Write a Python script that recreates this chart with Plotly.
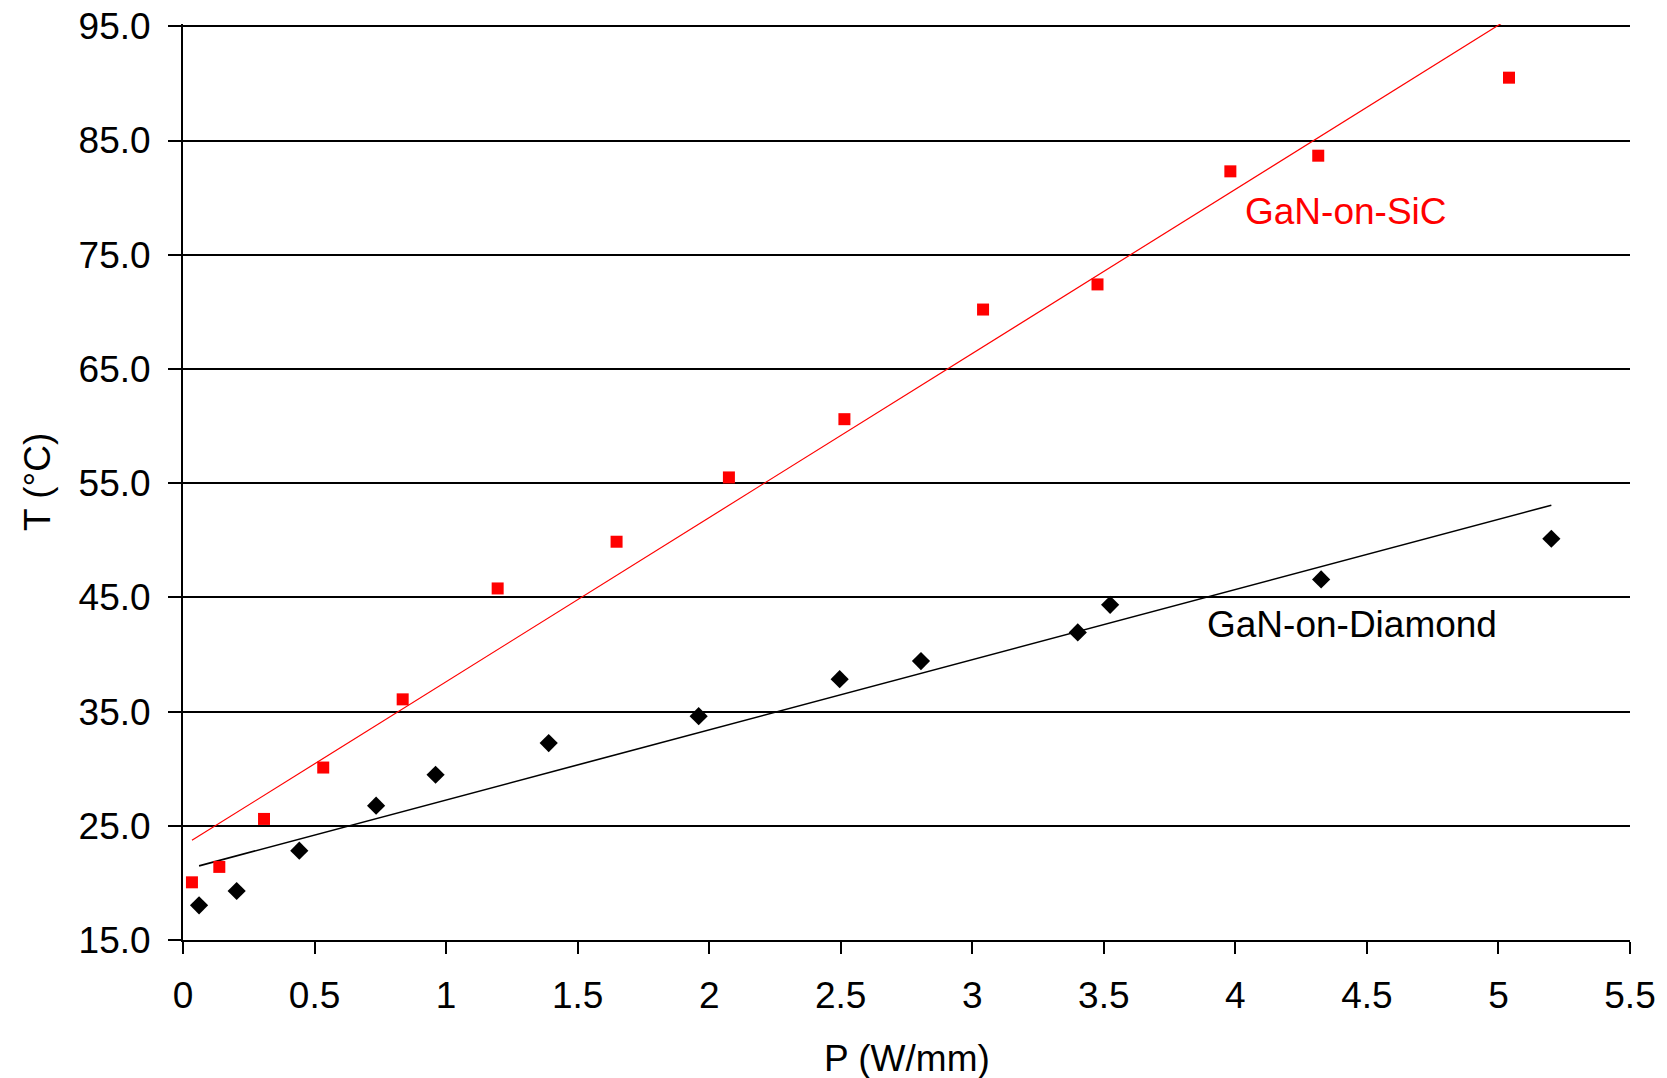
import numpy as np
import plotly.graph_objects as go

# GaN-on-SiC (red squares)
sic_p = [0.034, 0.138, 0.308, 0.533, 0.835, 1.196, 1.648, 2.075, 2.514, 3.041, 3.476, 3.981, 4.315, 5.040]
sic_t = [20.05, 21.4, 25.6, 30.1, 36.07, 45.78, 49.87, 55.5, 60.6, 70.2, 72.4, 82.3, 83.67, 90.5]

# GaN-on-Diamond (black diamonds)
dia_p = [0.061, 0.204, 0.442, 0.734, 0.960, 1.390, 1.960, 2.496, 2.805, 3.401, 3.524, 4.326, 5.201]
dia_t = [18.04, 19.29, 22.82, 26.76, 29.47, 32.24, 34.6, 37.84, 39.42, 41.93, 44.35, 46.57, 50.13]

y_ticks = [15, 25, 35, 45, 55, 65, 75, 85, 95]
x_ticks = [0, 0.5, 1, 1.5, 2, 2.5, 3, 3.5, 4, 4.5, 5, 5.5]

FONT = "Liberation Sans, Arial, sans-serif"

def fit_line(p, t):
    k, b = np.polyfit(p, t, 1)
    xs = [min(p), max(p)]
    return xs, [k * x + b for x in xs]

fig = go.Figure()

sx, sy = fit_line(sic_p, sic_t)
dx, dy = fit_line(dia_p, dia_t)

fig.add_trace(go.Scatter(x=sx, y=sy, mode="lines", line=dict(color="#ff0000", width=1.2),
                         showlegend=False, hoverinfo="skip"))
fig.add_trace(go.Scatter(x=dx, y=dy, mode="lines", line=dict(color="#000000", width=1.6),
                         showlegend=False, hoverinfo="skip"))
fig.add_trace(go.Scatter(x=sic_p, y=sic_t, mode="markers", name="GaN-on-SiC",
                         marker=dict(symbol="square", size=12, color="#ff0000", line=dict(width=0)),
                         showlegend=False))
fig.add_trace(go.Scatter(x=dia_p, y=dia_t, mode="markers", name="GaN-on-Diamond",
                         marker=dict(symbol="diamond", size=14, color="#000000", line=dict(width=0)),
                         showlegend=False))

fig.update_layout(
    width=1667, height=1078,
    margin=dict(l=175, r=45, t=16, b=146),
    paper_bgcolor="white", plot_bgcolor="white",
    font=dict(family=FONT, size=37, color="black"),
    xaxis=dict(range=[0, 5.5], tickvals=x_ticks, ticktext=[f"{v:g}" for v in x_ticks],
               automargin=False, ticklabeloverflow="allow",
               showgrid=False, zeroline=False, showline=True, linecolor="black", linewidth=2,
               ticks="outside", ticklen=12, tickwidth=2, tickcolor="black",
               ticklabelstandoff=10, tickfont=dict(size=37, family=FONT)),
    yaxis=dict(range=[15, 95.2], tickvals=y_ticks, ticktext=[f"{v:.1f}" for v in y_ticks],
               automargin=False, ticklabeloverflow="allow",
               showgrid=True, gridcolor="black", gridwidth=1.5, zeroline=False,
               showline=True, linecolor="black", linewidth=2,
               ticks="outside", ticklen=13, tickwidth=2, tickcolor="black",
               ticklabelstandoff=10, tickfont=dict(size=37, family=FONT)),
    annotations=[
        dict(text="P (W/mm)", xref="paper", yref="paper", x=0.5, y=0, yshift=-118,
             xanchor="center", yanchor="middle", showarrow=False, font=dict(size=37)),
        dict(text="T (°C)", xref="paper", yref="paper", x=0, y=0.5, xshift=-146,
             xanchor="center", yanchor="middle", textangle=-90, showarrow=False, font=dict(size=37)),
        dict(text="GaN-on-SiC", x=4.422, y=78.8, xref="x", yref="y", showarrow=False,
             xanchor="center", yanchor="middle", font=dict(size=37, color="#ff0000")),
        dict(text="GaN-on-Diamond", x=4.443, y=42.6, xref="x", yref="y", showarrow=False,
             xanchor="center", yanchor="middle", font=dict(size=37, color="#000000")),
    ],
)

fig.write_html("out.html")
